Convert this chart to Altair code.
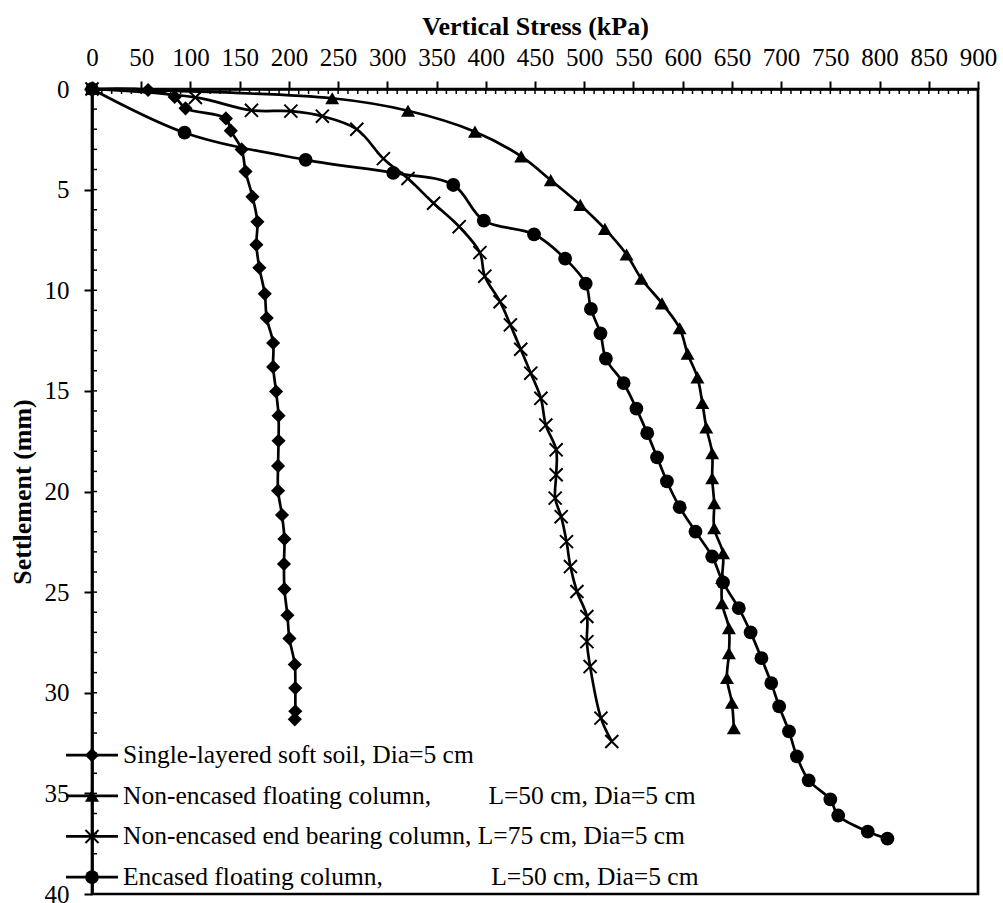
import altair as alt
import pandas as pd

# ---------------- data ----------------
series_names = [
    "Single-layered soft soil, Dia=5 cm",
    "Non-encased floating column, L=50 cm, Dia=5 cm",
    "Non-encased end bearing column, L=75 cm, Dia=5 cm",
    "Encased floating column, L=50 cm, Dia=5 cm",
]

s1_stress = [0, 57, 84, 95, 136, 141, 152, 156, 163, 168, 167, 170, 175.5, 177.5, 184, 184,
             187, 189.5, 189.5, 189, 189, 193, 195.5, 195, 195.5, 198.5, 200.5, 206, 206.5, 206.5, 206]
s1_settle = [0, 0.05, 0.4, 0.96, 1.46, 2.07, 3.0, 4.1, 5.36, 6.6, 7.74, 8.88, 10.18, 11.38, 12.62, 13.81,
             15.03, 16.23, 17.48, 18.73, 19.96, 21.17, 22.36, 23.6, 24.85, 26.15, 27.3, 28.6, 29.77, 30.92, 31.32]

s2_stress = [0, 244, 321, 389, 436, 466, 496, 521, 543, 558, 579, 597, 605, 615, 620, 624, 630, 630,
             632, 632, 641, 640, 640, 647, 647, 645, 650, 652]
s2_settle = [0, 0.46, 1.08, 2.12, 3.35, 4.53, 5.76, 6.95, 8.22, 9.43, 10.65, 11.89, 13.15, 14.33, 15.6,
             16.82, 18.1, 19.34, 20.58, 21.82, 23.07, 24.3, 25.55, 26.79, 28.03, 29.27, 30.5, 31.76]

s3_stress = [0, 105, 162, 202, 234, 269, 296, 321, 347, 373, 394, 399, 414.5, 425, 435.5, 445.7, 456,
             461, 471.5, 471.5, 470.5, 476.6, 482, 486, 492.6, 502.7, 502.7, 506, 517, 528]
s3_settle = [0, 0.42, 1.06, 1.1, 1.35, 2.0, 3.46, 4.45, 5.68, 6.84, 8.13, 9.3, 10.57, 11.72, 12.93,
             14.12, 15.37, 16.7, 17.93, 19.17, 20.33, 21.25, 22.49, 23.73, 24.97, 26.21, 27.46, 28.7, 31.26, 32.42]

s4_stress = [0, 94, 217, 306, 367, 398, 449, 480.6, 501.5, 506.8, 516.5, 522, 540, 553, 564, 574, 584,
             597, 613, 630, 641, 657, 669, 680, 690, 698, 708, 716, 728, 750, 758, 788, 808]
s4_settle = [0, 2.17, 3.52, 4.17, 4.77, 6.54, 7.22, 8.43, 9.67, 10.93, 12.14, 13.4, 14.62, 15.88, 17.1,
             18.3, 19.5, 20.78, 21.99, 23.23, 24.52, 25.8, 27.0, 28.28, 29.52, 30.68, 31.92, 33.16, 34.35,
             35.3, 36.1, 36.9, 37.25]

x_major_ticks = list(range(0, 901, 50))
x_minor_ticks = list(range(0, 901, 10))
y_major_ticks = list(range(0, 41, 5))
y_minor_ticks = list(range(0, 41, 1))

legend_left = ["Single-layered soft soil, Dia=5 cm",
               "Non-encased floating column," + "\u00a0" * 9 + "L=50 cm, Dia=5 cm",
               "Non-encased end bearing column, L=75 cm, Dia=5 cm",
               "Encased floating column," + "\u00a0" * 17 + "L=50 cm, Dia=5 cm"]

# ---------------- tables ----------------
rows = []
for name, xs, ys in zip(series_names, [s1_stress, s2_stress, s3_stress, s4_stress],
                        [s1_settle, s2_settle, s3_settle, s4_settle]):
    for i, (a, b) in enumerate(zip(xs, ys)):
        rows.append({"series": name, "stress": a, "settlement": b, "idx": i})
df = pd.DataFrame(rows)

legend_df = pd.DataFrame({"series": series_names, "label": legend_left, "row": [0, 1, 2, 3]})

FONT = "Liberation Serif"

X = alt.X("stress:Q",
          scale=alt.Scale(domain=[0, 900], nice=False, zero=False),
          axis=alt.Axis(orient="top", values=x_major_ticks, title="Vertical Stress (kPa)",
                        grid=False, tickSize=8, labelPadding=11, titlePadding=6,
                        labelFlush=False, labelOverlap=False))
Y = alt.Y("settlement:Q",
          scale=alt.Scale(domain=[0, 40], nice=False, zero=False, reverse=True),
          axis=alt.Axis(values=y_major_ticks, title="Settlement (mm)", grid=False,
                        tickSize=8, labelPadding=15, titlePadding=9,
                        labelFlush=False, labelOverlap=False))

lines = alt.Chart(df).mark_line(interpolate="catmull-rom", color="black", strokeWidth=2.7).encode(
    x=X, y=Y, detail="series:N", order="idx:Q")

shape_scale = alt.Scale(domain=[series_names[0], series_names[1], series_names[3]],
                        range=["diamond", "triangle-up", "circle"])
size_scale = alt.Scale(domain=[series_names[0], series_names[1], series_names[3]],
                       range=[200, 190, 220])

filled_pts = alt.Chart(df).transform_filter(
    alt.datum.series != series_names[2]
).mark_point(filled=True, color="black", opacity=1).encode(
    x=X, y=Y,
    shape=alt.Shape("series:N", legend=None, scale=shape_scale),
    size=alt.Size("series:N", legend=None, scale=size_scale))

XSHAPE = "M-1,-1L1,1M1,-1L-1,1"
x_pts = alt.Chart(df).transform_filter(
    alt.datum.series == series_names[2]
).mark_point(shape=XSHAPE, filled=False, color="black", strokeWidth=2, size=170, opacity=1).encode(
    x=X, y=Y)

# inward minor / major ticks
xt = alt.Chart(pd.DataFrame({"stress": x_minor_ticks})).mark_rule(color="black", strokeWidth=1.5).encode(
    x=X, y=alt.value(0), y2=alt.value(5))
yt = alt.Chart(pd.DataFrame({"settlement": y_minor_ticks})).mark_rule(color="black", strokeWidth=1.5).encode(
    y=Y, x=alt.value(0), x2=alt.value(5))

# custom legend
leg_base = alt.Chart(legend_df).transform_calculate(settlement="33.1 + 2.02 * datum.row")
leg_rule = leg_base.mark_rule(color="black", strokeWidth=2.7).encode(
    y=Y, x=alt.value(-26), x2=alt.value(26))
leg_fill = leg_base.transform_filter(alt.datum.row != 2).mark_point(
    filled=True, color="black", opacity=1).encode(
    y=Y, x=alt.value(0),
    shape=alt.Shape("series:N", legend=None, scale=shape_scale),
    size=alt.Size("series:N", legend=None, scale=size_scale))
leg_x = leg_base.transform_filter(alt.datum.row == 2).mark_point(
    shape=XSHAPE, filled=False, color="black", strokeWidth=2, size=170, opacity=1).encode(
    y=Y, x=alt.value(0))
leg_text = leg_base.mark_text(align="left", baseline="middle", font=FONT, fontSize=25.5,
                              color="black").encode(
    y=Y, x=alt.value(31), text="label:N")

chart = alt.layer(xt, yt, lines, filled_pts, x_pts, leg_rule, leg_fill, leg_x, leg_text).properties(
    width=886, height=805,
    background="white",
    autosize=alt.AutoSizeParams(type="none"),
    padding={"left": 92, "top": 89, "right": 25, "bottom": 9},
).configure_view(
    stroke="black", strokeWidth=2.7
).configure_axis(
    domainColor="black", domainWidth=2.7, tickColor="black", tickWidth=2,
    labelFont=FONT, labelFontSize=25, labelColor="black",
    titleFont=FONT, titleFontSize=26, titleFontWeight="bold", titleColor="black"
)

chart.save("out.html", embed_options={"renderer": "svg", "actions": False})
